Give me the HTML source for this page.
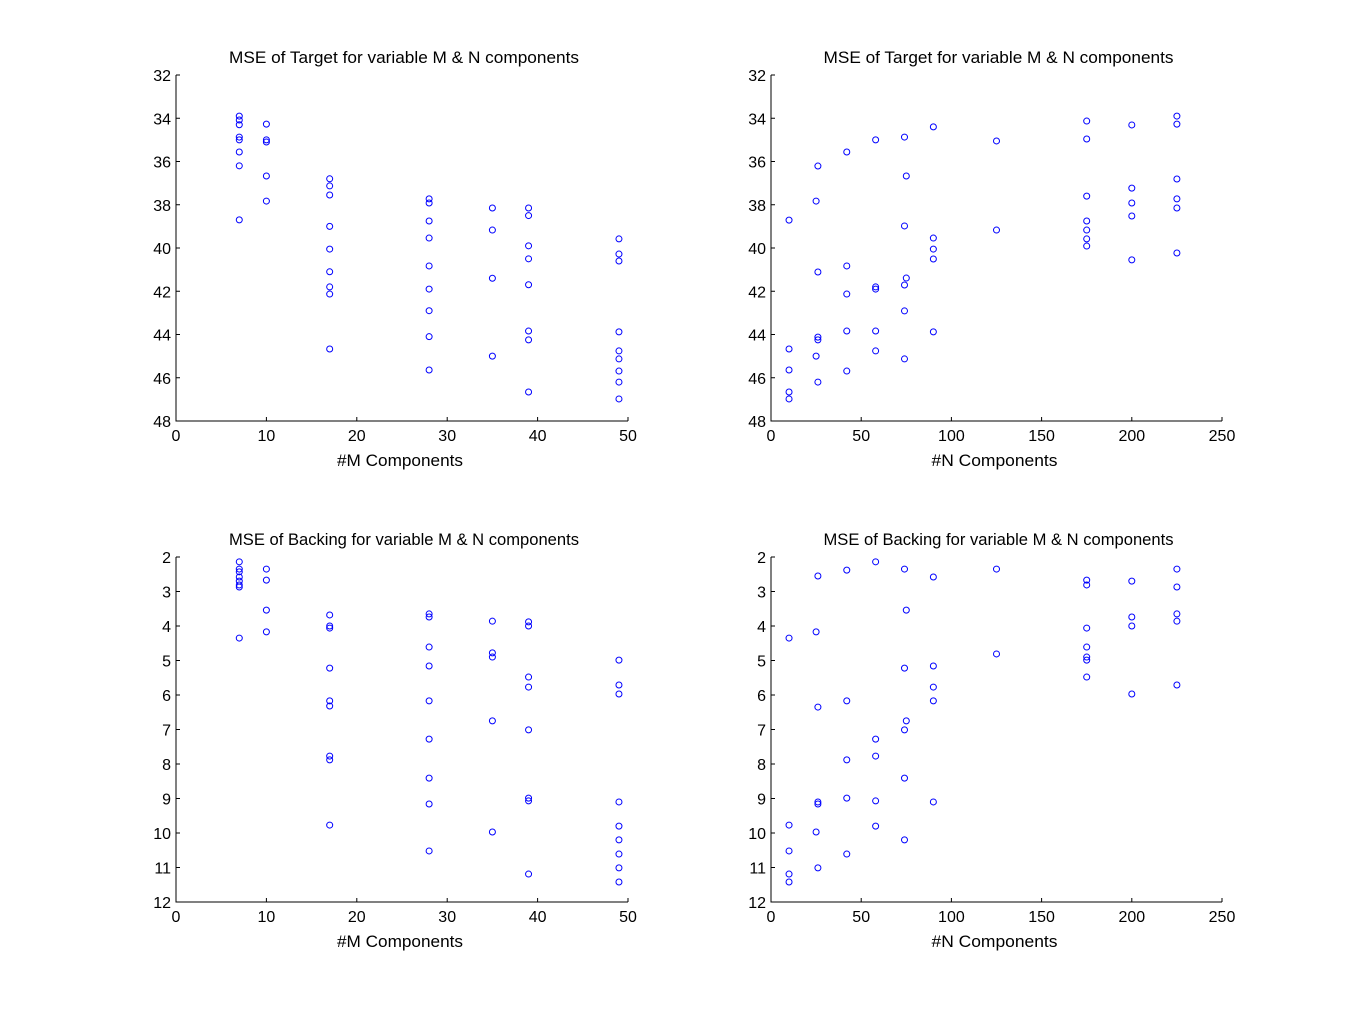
<!DOCTYPE html>
<html><head><meta charset="utf-8"><style>
body{margin:0;background:#fff;}
svg{display:block;font-family:"Liberation Sans",Arial,sans-serif;}
</style></head><body>
<svg id="fig" width="1351" height="1015" viewBox="0 0 1351 1015" xmlns="http://www.w3.org/2000/svg"></svg>
<script>
// ---- data ----
const tlX = [7,7,7,7,7,7,7,7, 10,10,10,10,10, 17,17,17,17,17,17,17,17,17, 28,28,28,28,28,28,28,28,28, 35,35,35,35, 39,39,39,39,39,39,39,39, 49,49,49,49,49,49,49,49,49];
const tlY = [33.9,34.08,34.3,34.87,35.0,35.56,36.2,38.7, 34.27,35.0,35.1,36.67,37.83, 36.8,37.13,37.55,39.0,40.05,41.1,41.8,42.13,44.67, 37.73,37.92,38.75,39.54,40.83,41.9,42.9,44.1,45.64, 38.15,39.17,41.4,45.0, 38.15,38.5,39.9,40.5,41.7,43.84,44.25,46.66, 39.58,40.28,40.6,43.88,44.76,45.13,45.69,46.2,46.98];
const trX = [10,10,10,10,10, 25,26,26,26,26,25,26, 42,42,42,42,42, 58,58,58,58,58, 74,75,74,75,74,74,74, 90,90,90,90,90, 125,125, 175,175,175,175,175,175,175, 200,200,200,200,200, 225,225,225,225,225,225];
const trY = [38.71,44.67,45.64,46.66,46.98, 37.83,36.21,41.11,44.12,44.25,45.0,46.2, 35.56,40.83,42.13,43.84,45.69, 35.0,41.8,41.9,43.84,44.76, 34.87,36.67,38.98,41.39,41.71,42.91,45.13, 34.4,39.54,40.05,40.51,43.88, 35.05,39.17, 34.13,34.96,37.6,38.75,39.17,39.58,39.91, 34.31,37.23,37.92,38.52,40.55, 33.9,34.27,36.81,37.73,38.15,40.23];
const blX = [7,7,7,7,7,7,7,7, 10,10,10,10, 17,17,17,17,17,17,17,17,17, 28,28,28,28,28,28,28,28,28, 35,35,35,35,35, 39,39,39,39,39,39,39,39, 49,49,49,49,49,49,49,49,49];
const blY = [2.14,2.35,2.43,2.58,2.7,2.81,2.87,4.35, 2.35,2.67,3.54,4.17, 3.68,4.0,4.06,5.22,6.17,6.32,7.77,7.88,9.77, 3.65,3.74,4.61,5.16,6.17,7.28,8.41,9.16,10.52, 3.86,4.78,4.9,6.75,9.97, 3.88,4.0,5.48,5.77,7.01,8.99,9.07,11.19, 4.99,5.71,5.97,9.1,9.8,10.2,10.61,11.01,11.42];
const brX = [10,10,10,10,10, 26,25,26,26,26,25,26, 42,42,42,42,42, 58,58,58,58,58, 74,75,74,75,74,74,74, 90,90,90,90,90, 125,125, 175,175,175,175,175,175,175, 200,200,200,200, 225,225,225,225,225];
const brY = [4.35,9.77,10.52,11.19,11.42, 2.55,4.17,6.35,9.1,9.16,9.97,11.01, 2.38,6.17,7.88,8.99,10.61, 2.14,7.28,7.77,9.07,9.8, 2.35,3.54,5.22,6.75,7.01,8.41,10.2, 2.58,5.16,5.77,6.17,9.1, 2.35,4.81, 2.67,2.81,4.06,4.61,4.9,4.99,5.48, 2.7,3.74,4.0,5.97, 2.35,2.87,3.65,3.86,5.71];
const mTicks = [0,10,20,30,40,50];
const nTicks = [0,50,100,150,200,250];
const tTicks = [32,34,36,38,40,42,44,46,48];
const bTicks = [2,3,4,5,6,7,8,9,10,11,12];

const NS = "http://www.w3.org/2000/svg";
const svg = document.getElementById('fig');
function mk(tag, attrs, parent){const e=document.createElementNS(NS,tag);for(const k in attrs)e.setAttribute(k,attrs[k]);(parent||svg).appendChild(e);return e;}

function panel(name, L, R, T, B, xMax, yMin, yMax, xt, yt, xs, ys, title, xlabel){
  const g = mk('g',{});
  
  
  const sx = v => L + (v/xMax)*(R-L);
  const sy = v => T + (v-yMin)/(yMax-yMin)*(B-T);
  const ax = mk('path',{d:`M${L} ${T}V${B}H${R}`,fill:'none',stroke:'#000','stroke-width':1},g);
  
  
  xt.forEach(v=>{
    mk('line',{x1:sx(v),x2:sx(v),y1:B,y2:B-4,stroke:'#000'},g);
    const t=mk('text',{x:sx(v),y:B+20,'text-anchor':'middle','font-size':16},g);t.textContent=v;
    
    
  });
  yt.forEach(v=>{
    mk('line',{x1:L,x2:L+4,y1:sy(v),y2:sy(v),stroke:'#000'},g);
    const t=mk('text',{x:L-5,y:sy(v)+6,'text-anchor':'end','font-size':16},g);t.textContent=v;
    
    
  });
  xs.forEach((x,i)=>{
    const c=mk('circle',{cx:sx(x),cy:sy(ys[i]),r:3,fill:'none',stroke:'#0000ff','stroke-width':1},g);
    
    
  });
  const ti=mk('text',{x:(L+R)/2+2,y:T-12,'text-anchor':'middle','font-size':17,textLength:350,lengthAdjust:'spacingAndGlyphs'},g);ti.textContent=title;
  
  
  const xl=mk('text',{x:(L+R)/2-2,y:B+45,'text-anchor':'middle','font-size':17,textLength:126,lengthAdjust:'spacingAndGlyphs'},g);xl.textContent=xlabel;
  
  
}
panel('panel-target-m',176,628,75,421,50,32,48,mTicks,tTicks,tlX,tlY,'MSE of Target for variable M & N components','#M Components');
panel('panel-target-n',771,1222,75,421,250,32,48,nTicks,tTicks,trX,trY,'MSE of Target for variable M & N components','#N Components');
panel('panel-backing-m',176,628,557,902,50,2,12,mTicks,bTicks,blX,blY,'MSE of Backing for variable M & N components','#M Components');
panel('panel-backing-n',771,1222,557,902,250,2,12,nTicks,bTicks,brX,brY,'MSE of Backing for variable M & N components','#N Components');
</script>
</body></html>
